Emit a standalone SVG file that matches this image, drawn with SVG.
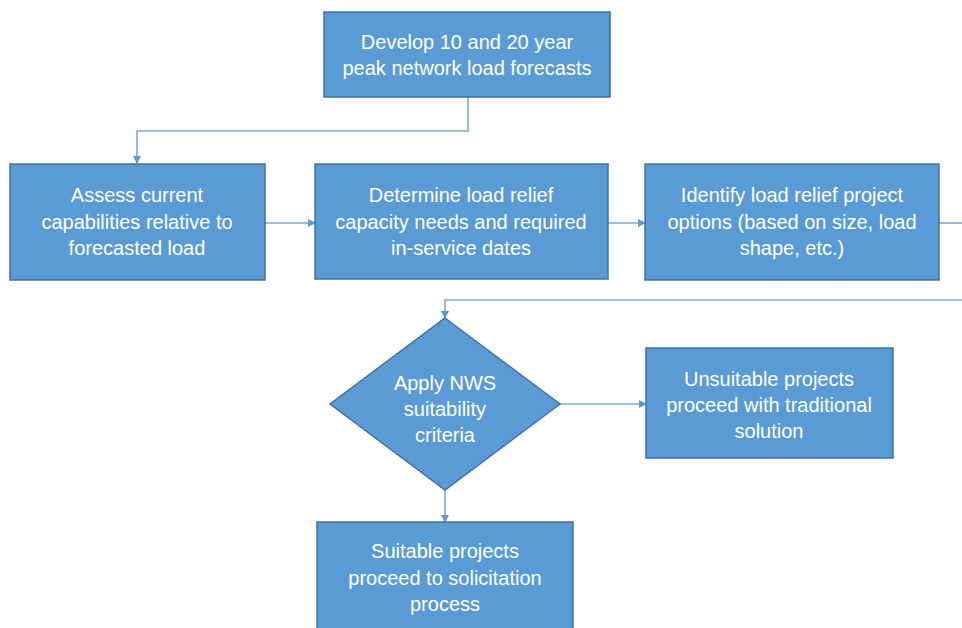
<svg xmlns="http://www.w3.org/2000/svg" width="962" height="628" viewBox="0 0 962 628">
<style>
.box{fill:#5B9BD5;stroke:#41719C;stroke-width:1.5}
.t{font-family:"Liberation Sans",Arial,sans-serif;font-size:20px;fill:#FFFFFF;text-anchor:middle}
.c{fill:none;stroke:#7DA7D9;stroke-width:1.6}
</style>
<defs>
<marker id="ah" markerWidth="8" markerHeight="8" refX="7" refY="4" orient="auto" markerUnits="userSpaceOnUse">
<path d="M0,0 L8,4 L0,8 Z" fill="#5B9BD5"/>
</marker>
</defs>
<rect width="962" height="628" fill="#FFFFFF"/>
<g id="connectors">
<path class="c" d="M468,97 V131 H137 V163" marker-end="url(#ah)"/>
<path class="c" d="M265,223 H315" marker-end="url(#ah)"/>
<path class="c" d="M608,223 H645" marker-end="url(#ah)"/>
<path class="c" d="M939,223 H962"/>
<path class="c" d="M962,300 H445 V318" marker-end="url(#ah)"/>
<path class="c" d="M560,404 H646" marker-end="url(#ah)"/>
<path class="c" d="M445,490 V522" marker-end="url(#ah)"/>
</g>
<g id="n1">
<rect class="box" x="324" y="12" width="286" height="85"/>
<text class="t" x="467" y="49">Develop 10 and 20 year</text>
<text class="t" x="467" y="75">peak network load forecasts</text>
</g>
<g id="n2">
<rect class="box" x="10" y="164" width="255" height="116"/>
<text class="t" x="137" y="202">Assess current</text>
<text class="t" x="137" y="229">capabilities relative to</text>
<text class="t" x="137" y="255">forecasted load</text>
</g>
<g id="n3">
<rect class="box" x="315" y="164" width="293" height="115"/>
<text class="t" x="461" y="202">Determine load relief</text>
<text class="t" x="461" y="229">capacity needs and required</text>
<text class="t" x="461" y="255">in-service dates</text>
</g>
<g id="n4">
<rect class="box" x="645" y="164" width="294" height="116"/>
<text class="t" x="792" y="202">Identify load relief project</text>
<text class="t" x="792" y="229">options (based on size, load</text>
<text class="t" x="792" y="255">shape, etc.)</text>
</g>
<g id="n5">
<polygon class="box" points="445,318 560,404 445,490 330,404"/>
<text class="t" x="445" y="390">Apply NWS</text>
<text class="t" x="445" y="416">suitability</text>
<text class="t" x="445" y="442">criteria</text>
</g>
<g id="n6">
<rect class="box" x="646" y="348" width="247" height="110"/>
<text class="t" x="769" y="386">Unsuitable projects</text>
<text class="t" x="769" y="412">proceed with traditional</text>
<text class="t" x="769" y="438">solution</text>
</g>
<g id="n7">
<rect class="box" x="317" y="522" width="256" height="120"/>
<text class="t" x="445" y="558">Suitable projects</text>
<text class="t" x="445" y="585">proceed to solicitation</text>
<text class="t" x="445" y="611">process</text>
</g>
</svg>
